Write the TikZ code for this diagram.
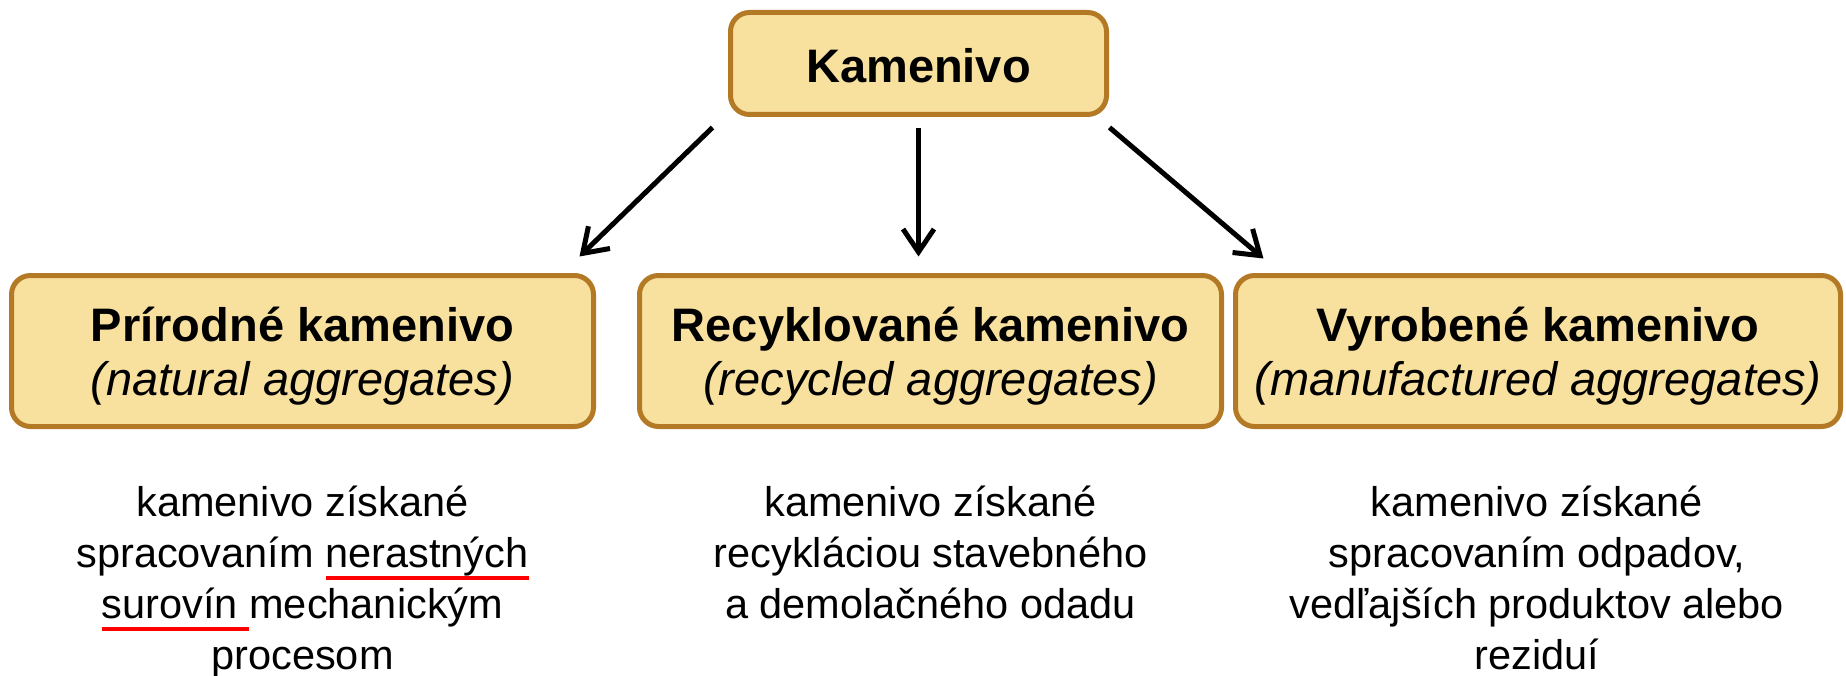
\documentclass[tikz,border=0pt]{standalone}
\usepackage{fontspec}
\setmainfont{Liberation Sans}
\usetikzlibrary{arrows.meta}
\definecolor{boxfill}{RGB}{248,224,158}
\definecolor{boxline}{RGB}{180,121,37}
\newlength\myulw
\newcommand\redul[1]{\settowidth\myulw{#1}\rlap{\textcolor{red}{\rule[-12pt]{\myulw}{4pt}}}#1}
\newcommand\lowr[2]{\raisebox{-#1}[\height][\depth]{#2}}
\tikzset{
  box/.style={draw=boxline, fill=boxfill, line width=5pt, rounded corners=19pt, align=center, inner sep=0pt},
  arr/.style={line width=5pt, -{Straight Barb[length=23pt,width=31pt]}},
  desc/.style={align=center, inner sep=0pt, anchor=north, font=\fontsize{41.5}{51}\selectfont},
  boxfont/.style={font=\fontsize{47}{54}\selectfont}
}
\begin{document}
\begin{tikzpicture}[x=1pt,y=-1pt]
\useasboundingbox (0,0) rectangle (1846,676);
\node[box, boxfont, minimum width=376pt, minimum height=102pt] (top) at (918.5,63.5) {\lowr{2.5pt}{\textbf{Kamenivo}}};
\node[box, boxfont, minimum width=582pt, minimum height=151pt] (left) at (302.5,351) {\lowr{5pt}{\textbf{Prírodné kamenivo}}\\\lowr{5pt}{\textit{(natural aggregates)}}};
\node[box, boxfont, minimum width=582pt, minimum height=151pt] (mid) at (930.5,351) {\lowr{5pt}{\textbf{Recyklované kamenivo}}\\\lowr{5pt}{\textit{(recycled aggregates)}}};
\node[box, boxfont, minimum width=605pt, minimum height=151pt] (right) at (1538,351) {\lowr{5pt}{\textbf{Vyrobené kamenivo}}\\\lowr{5pt}{\textit{(manufactured aggregates)}}};
\draw[arr] ([xshift=-15.5pt,yshift=-10.5pt]top.south west) -- ([xshift=-16.5pt,yshift=16.5pt]left.north east);
\draw[arr] ([yshift=-11.5pt]top.south) -- ([yshift=16.5pt]top.south |- mid.north);
\draw[arr] ([xshift=0.5pt,yshift=-10.5pt]top.south east) -- ([xshift=30.5pt,yshift=14.5pt]right.north west);
\node[desc] (dl) at (302.5,486) {kamenivo získané\\spracovaním \redul{nerastných}\\\redul{surovín }mechanickým\\procesom};
\node[desc] (dm) at (930.5,486) {kamenivo získané\\recykláciou stavebného\\a demolačného odadu};
\node[desc] (dr) at (1537,486) {kamenivo získané\\spracovaním odpadov,\\vedľajších produktov alebo\\reziduí};
\end{tikzpicture}
\end{document}
